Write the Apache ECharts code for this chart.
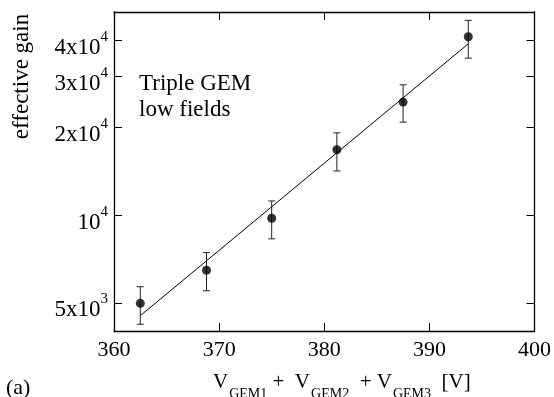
<!DOCTYPE html>
<html><head><meta charset="utf-8">
<script src="https://cdn.jsdelivr.net/npm/echarts@6/dist/echarts.min.js"></script>
<style>html,body{margin:0;padding:0;background:#fff}#c{width:554px;height:397px}</style>
</head><body><div id="c"></div>
<script>
// ---- data ----
const voltage  = [362.5, 368.8, 375.0, 381.2, 387.5, 393.7];
const gain     = [4980, 6470, 9770, 16800, 24500, 41100];
const gainLow  = [4220, 5500, 8300, 14200, 20900, 34700];
const gainHigh = [5680, 7440, 11200, 19200, 28100, 46800];
const fitVoltage = [362.5, 393.7];
const fitGain    = [4515, 38870];
const xTickValues = [360, 370, 380, 390, 400];
const yTickValues = [5000, 10000, 20000, 30000, 40000];
const yTickMantissa = ['5x10', '10', '2x10', '3x10', '4x10'];
const yTickExponent = ['3', '4', '4', '4', '4'];
const xTitleParts = [['V', 'main'], ['GEM1', 'sub'], [' +  V', 'main'], ['GEM2', 'sub'], ['  + V', 'main'], ['GEM3', 'sub'], ['  [V]', 'main']];

const FF = '"Liberation Serif","DejaVu Serif",serif';
const chart = echarts.init(document.getElementById('c'), null, {renderer: 'canvas'});

const frameLine = {show: true, lineStyle: {color: '#000', width: 1.3}};
const tickStyle = {color: '#000', width: 1};

// x-axis title built from main / subscript pieces
const mctx = document.createElement('canvas').getContext('2d');
const titleGraphics = [];
let tx = 213;
xTitleParts.forEach(([txt, kind]) => {
  const size = kind === 'main' ? 21 : 14;
  const mid = kind === 'main' ? 382.6 : 394.6;
  const font = size + 'px ' + FF;
  mctx.font = font;
  titleGraphics.push({type: 'text', x: tx, y: mid,
    style: {text: txt, font: font, fill: '#000', align: 'left', textAlign: 'left',
            verticalAlign: 'middle', textVerticalAlign: 'middle'}});
  tx += mctx.measureText(txt).width + (kind === 'sub' ? 0 : 1);
});

chart.setOption({
  animation: false,
  backgroundColor: '#fff',
  grid: {left: 114, right: 19, top: 12, bottom: 66},
  xAxis: [
    {type: 'value', min: 360, max: 400, interval: 10, position: 'bottom',
     axisLine: frameLine, axisTick: {inside: true, length: 8, lineStyle: tickStyle},
     axisLabel: {fontSize: 22, fontFamily: FF, color: '#000', margin: 8,
                 formatter: v => xTickValues.includes(v) ? String(v) : ''},
     splitLine: {show: false}},
    {type: 'value', min: 360, max: 400, interval: 10, position: 'top',
     axisLine: frameLine, axisTick: {inside: true, length: 8, lineStyle: tickStyle},
     axisLabel: {show: false}, splitLine: {show: false}}
  ],
  yAxis: [
    {type: 'log', logBase: 10, min: 4000, max: 50000, position: 'left',
     axisLine: frameLine,
     axisTick: {inside: true, length: 8, lineStyle: tickStyle, customValues: yTickValues},
     minorTick: {show: false}, splitLine: {show: false},
     axisLabel: {customValues: yTickValues, margin: 6, color: '#000',
       formatter: v => {
         const i = yTickValues.findIndex(t => Math.abs(t - v) / t < 1e-6);
         return i < 0 ? '' : '{m|' + yTickMantissa[i] + '}{s|' + yTickExponent[i] + '}';
       },
       rich: {
         m: {fontSize: 23, fontFamily: FF, color: '#000', lineHeight: 22, padding: [7, 0, 0, 0], verticalAlign: 'top'},
         s: {fontSize: 15, fontFamily: FF, color: '#000', lineHeight: 16, verticalAlign: 'top'}
       }}},
    {type: 'log', logBase: 10, min: 4000, max: 50000, position: 'right',
     axisLine: frameLine,
     axisTick: {inside: true, length: 8, lineStyle: tickStyle, customValues: yTickValues},
     minorTick: {show: false}, splitLine: {show: false},
     axisLabel: {show: false}}
  ],
  graphic: [
    {type: 'text', x: 33, y: 76.5, rotation: Math.PI / 2,
     style: {text: 'effective gain', font: '23px ' + FF, fill: '#000',
             align: 'center', textAlign: 'center', verticalAlign: 'bottom', textVerticalAlign: 'bottom'}},
    {type: 'text', x: 139, y: 71,
     style: {text: 'Triple GEM\nlow fields', font: '23px ' + FF, fill: '#000', lineHeight: 26,
             align: 'left', textAlign: 'left', verticalAlign: 'top', textVerticalAlign: 'top'}},
    {type: 'text', x: 6, y: 388.5,
     style: {text: '(a)', font: '22px ' + FF, fill: '#000',
             align: 'left', textAlign: 'left', verticalAlign: 'middle', textVerticalAlign: 'middle'}}
  ].concat(titleGraphics),
  series: [
    {type: 'line', name: 'fit', xAxisIndex: 0, yAxisIndex: 0,
     data: fitVoltage.map((v, i) => [v, fitGain[i]]),
     showSymbol: false, symbol: 'none', lineStyle: {color: '#000', width: 1}, z: 2},
    {type: 'custom', name: 'errors', xAxisIndex: 0, yAxisIndex: 0,
     data: voltage.map((v, i) => [v, gainLow[i], gainHigh[i]]),
     encode: {x: 0, y: [1, 2]},
     renderItem: (params, api) => {
       const x = api.value(0);
       const lo = api.coord([x, api.value(1)]);
       const hi = api.coord([x, api.value(2)]);
       const w = 3.5;
       const st = {stroke: '#222', lineWidth: 1};
       return {type: 'group', children: [
         {type: 'line', shape: {x1: lo[0], y1: lo[1], x2: hi[0], y2: hi[1]}, style: st},
         {type: 'line', shape: {x1: lo[0] - w, y1: lo[1], x2: lo[0] + w, y2: lo[1]}, style: st},
         {type: 'line', shape: {x1: hi[0] - w, y1: hi[1], x2: hi[0] + w, y2: hi[1]}, style: st}
       ]};
     }, z: 3},
    {type: 'scatter', name: 'gain', xAxisIndex: 0, yAxisIndex: 0,
     data: voltage.map((v, i) => [v, gain[i]]),
     symbol: 'circle', symbolSize: 9, itemStyle: {color: '#000'}, z: 4}
  ]
});
</script></body></html>
